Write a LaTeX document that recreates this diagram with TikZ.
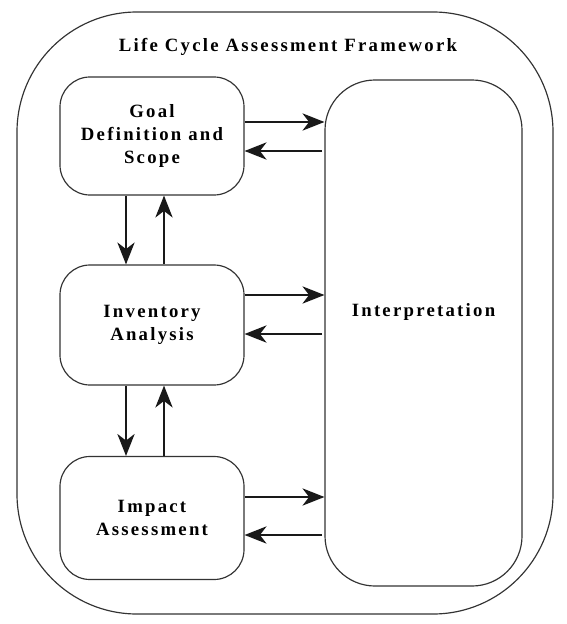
\documentclass[tikz,border=0pt]{standalone}
\usepackage{fontspec}
\setmainfont{Liberation Serif}[LetterSpace=12]
\usetikzlibrary{arrows.meta}

\begin{document}
\begin{tikzpicture}[x=0.03cm, y=-0.03cm, font=\fontsize{16}{19.5}\selectfont\bfseries]

\tikzstyle{box1}=[rectangle, draw=black!80, line width=1pt, rounded corners=0.9cm, minimum width=5.52cm, align=center]
\tikzstyle{box2}=[rectangle, draw=black!80, line width=1pt, rounded corners=1.5cm, minimum width=5.91cm, minimum height=15.18cm]
\tikzstyle{arrow}=[-{Stealth[length=0.66cm, width=0.52cm, inset=0.2cm]}, draw=black!90, line width=1.1pt]

\useasboundingbox (0,0) rectangle (566,624);

% outer frame
\draw [black!80, line width=1pt, rounded corners=3.6cm] (17,12) rectangle (553,614);
\node (title) at (288,47) {Life Cycle Assessment Framework};

\node (A) [box1, minimum height=3.54cm] at (152,136) {Goal\\ Definition and\\ Scope};
\node (B) [box1, minimum height=3.6cm] at (152,325) {Inventory\\ Analysis};
\node (C) [box1, minimum height=3.69cm] at (152,518) {Impact\\ Assessment};
\node (D) [box2, label={[yshift=0.63cm]center:Interpretation}] at (423.5,333) {};

% to and from interpretation
\draw [arrow] ([yshift=0.42cm]A.east) -- ([yshift=0.42cm]A.east -| D.west);
\draw [arrow, shorten <=2pt] ([yshift=-0.45cm]A.east -| D.west) -- ([yshift=-0.45cm]A.east);
\draw [arrow] ([yshift=0.9cm]B.east) -- ([yshift=0.9cm]B.east -| D.west);
\draw [arrow, shorten <=2pt] ([yshift=-0.27cm]B.east -| D.west) -- ([yshift=-0.27cm]B.east);
\draw [arrow] ([yshift=0.63cm]C.east) -- ([yshift=0.63cm]C.east -| D.west);
\draw [arrow, shorten <=2pt] ([yshift=-0.51cm]C.east -| D.west) -- ([yshift=-0.51cm]C.east);

% between the phases
\draw [arrow] ([xshift=-0.78cm]A.south) -- ([xshift=-0.78cm]B.north);
\draw [arrow] ([xshift=0.36cm]B.north) -- ([xshift=0.36cm]A.south);
\draw [arrow] ([xshift=-0.78cm]B.south) -- ([xshift=-0.78cm]C.north);
\draw [arrow] ([xshift=0.36cm]C.north) -- ([xshift=0.36cm]B.south);

\end{tikzpicture}
\end{document}
